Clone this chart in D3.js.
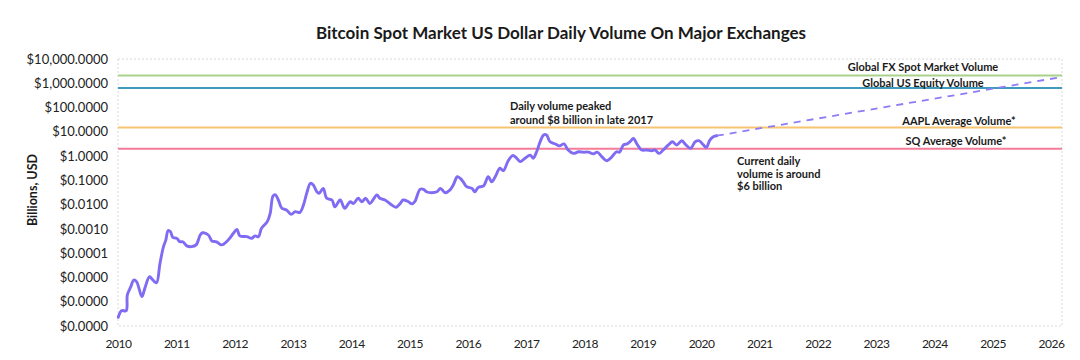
<!DOCTYPE html>
<html><head><meta charset="utf-8">
<script src="https://cdn.jsdelivr.net/npm/d3@7"></script>
<style>
html,body{margin:0;padding:0;background:#fff;}
svg{display:block;font-family:Lato,"Open Sans",sans-serif;}
</style></head>
<body>
<svg id="chart" width="1080" height="360"></svg>
<script>
// ---- data ----
const years = [2010.005,2010.06,2010.14,2010.16,2010.22,2010.27,2010.32,2010.41,2010.46,2010.54,2010.60,2010.66,2010.72,2010.78,2010.82,2010.86,2010.90,2010.94,2011.01,2011.06,2011.11,2011.18,2011.26,2011.34,2011.41,2011.45,2011.55,2011.61,2011.69,2011.78,2011.89,2011.98,2012.04,2012.09,2012.21,2012.29,2012.35,2012.41,2012.46,2012.56,2012.61,2012.66,2012.70,2012.75,2012.81,2012.89,2012.97,2013.04,2013.12,2013.18,2013.24,2013.30,2013.35,2013.41,2013.45,2013.52,2013.58,2013.67,2013.72,2013.81,2013.89,2013.98,2014.04,2014.12,2014.18,2014.25,2014.32,2014.44,2014.49,2014.58,2014.67,2014.77,2014.84,2014.89,2014.98,2015.04,2015.09,2015.18,2015.24,2015.29,2015.38,2015.47,2015.53,2015.61,2015.69,2015.75,2015.82,2015.87,2015.92,2015.98,2016.07,2016.12,2016.18,2016.27,2016.35,2016.41,2016.47,2016.55,2016.61,2016.69,2016.77,2016.84,2016.90,2016.98,2017.07,2017.12,2017.18,2017.24,2017.30,2017.35,2017.41,2017.50,2017.57,2017.65,2017.72,2017.81,2017.90,2017.98,2018.07,2018.15,2018.22,2018.30,2018.38,2018.47,2018.55,2018.60,2018.67,2018.73,2018.78,2018.84,2018.90,2018.98,2019.07,2019.15,2019.21,2019.28,2019.35,2019.44,2019.51,2019.58,2019.67,2019.74,2019.82,2019.90,2019.97,2020.04,2020.09,2020.15,2020.21,2020.27];
const volumeBillions = [2.29e-7,4.27e-7,4.27e-7,1.91e-6,4.17e-6,7.76e-6,6.61e-6,1.62e-6,3.55e-6,1.07e-5,7.76e-6,6.03e-6,3.80e-5,1.86e-4,3.47e-4,8.51e-4,7.59e-4,4.47e-4,4.07e-4,2.95e-4,2.95e-4,2.00e-4,1.86e-4,2.19e-4,5.62e-4,6.92e-4,5.62e-4,3.16e-4,2.95e-4,2.19e-4,3.47e-4,6.61e-4,9.55e-4,5.13e-4,4.79e-4,4.07e-4,5.13e-4,4.79e-4,1.05e-3,2.00e-3,4.37e-3,0.0229,0.0251,0.0155,7.08e-3,6.03e-3,3.98e-3,5.13e-3,4.79e-3,9.55e-3,0.0316,0.0759,0.0646,0.0339,0.0295,0.0468,0.0182,0.0155,8.13e-3,0.0155,7.08e-3,0.0132,0.0112,0.0182,0.0132,0.0182,0.0112,0.0251,0.0182,0.0155,0.0107,7.76e-3,0.0112,0.0155,0.0132,0.0107,0.0132,0.0427,0.0427,0.0339,0.0309,0.0339,0.0468,0.0309,0.0398,0.0646,0.141,0.120,0.0871,0.0550,0.0468,0.0339,0.0513,0.0589,0.141,0.0871,0.141,0.316,0.251,0.631,1.05,0.813,0.589,0.813,1.10,0.813,1.51,3.89,7.41,7.41,3.89,3.16,2.63,3.16,1.78,1.29,1.51,1.45,1.45,1.23,1.45,0.933,0.646,0.933,1.51,1.45,2.88,3.16,3.89,5.37,3.16,1.78,1.78,1.66,1.78,1.29,1.78,2.88,3.89,2.88,4.27,2.88,2.09,3.89,4.27,2.88,2.29,4.57,6.31,6.92];
const projectionYears = [2020.27, 2026.19];
const projectionBillions = [6.92, 1820];
const refNames = ["Global FX Spot Market Volume","Global US Equity Volume","AAPL Average Volume*","SQ Average Volume*"];
const refValues = [2100, 640, 15, 2.0];
const refColors = ["#a9d18e","#3e9bbd","#f8c471","#f37c9b"];
const yTicks = [1e4,1e3,1e2,1e1,1,1e-1,1e-2,1e-3,1e-4,1e-5,1e-6,1e-7];
const xTicks = [2010,2011,2012,2013,2014,2015,2016,2017,2018,2019,2020,2021,2022,2023,2024,2025,2026];

// ---- layout ----
const svg = d3.select("#chart");
const L = 118, R = 1062, T = 59, B = 326;
const x = d3.scaleLinear().domain([2010, 2026.19]).range([L, R]);
const y = d3.scaleLog().domain([1e-7, 1e4]).range([B, T]);

svg.append("text").attr("x", 561).attr("y", 39).attr("text-anchor","middle")
  .attr("font-size", 17).attr("font-weight", 700).attr("fill","#1a1a1a")
  .text("Bitcoin Spot Market US Dollar Daily Volume On Major Exchanges");

// plot border
svg.append("rect").attr("x", L).attr("y", T).attr("width", R-L).attr("height", B-T)
  .attr("fill","none").attr("stroke","#d9d9d9").attr("stroke-dasharray","2,2").attr("stroke-width",1);

// y axis
const fmt = d3.format("$,.4f");
const yAxis = svg.append("g").attr("transform", `translate(${L},0)`)
  .call(d3.axisLeft(y).tickValues(yTicks).tickFormat(fmt).tickSize(0).tickPadding(10));
yAxis.select(".domain").remove();
yAxis.selectAll("text").attr("font-size", 13).attr("fill","#222").attr("font-family","Lato,sans-serif");

// x axis
const xAxis = svg.append("g").attr("transform", `translate(0,${B})`)
  .call(d3.axisBottom(x).tickValues(xTicks).tickFormat(d3.format("d")).tickSize(0).tickPadding(13));
xAxis.select(".domain").remove();
xAxis.selectAll("text").attr("font-size", 12).attr("fill","#222").attr("font-family","Lato,sans-serif").attr("letter-spacing","-0.5px");

svg.append("text").attr("transform","translate(37,190) rotate(-90)").attr("text-anchor","middle")
  .attr("font-size", 12.5).attr("font-weight",700).attr("fill","#1a1a1a").text("Billions, USD");

// reference lines
refValues.forEach((v,i)=>{
  svg.append("line").attr("x1", L).attr("x2", R).attr("y1", y(v)).attr("y2", y(v))
    .attr("stroke", refColors[i]).attr("stroke-width", 2);
});

// main line
const data = years.map((yr,i)=>({yr, v: volumeBillions[i]}));
const line = d3.line().x(d=>x(d.yr)).y(d=>y(d.v)).curve(d3.curveCatmullRom.alpha(0.5));
svg.append("path").datum(data).attr("d", line).attr("fill","none")
  .attr("stroke","#7f6cf3").attr("stroke-width",2.9).attr("stroke-linejoin","round").attr("stroke-linecap","round");

// projection
const proj = projectionYears.map((yr,i)=>({yr, v: projectionBillions[i]}));
svg.append("path").datum(proj).attr("d", d3.line().x(d=>x(d.yr)).y(d=>y(d.v)))
  .attr("fill","none").attr("stroke","#8e7cf6").attr("stroke-width",1.8).attr("stroke-dasharray","7,6");

// annotations
function ann(lines, x0, y0, dy, anchor){
  const t = svg.append("text").attr("x", x0).attr("y", y0).attr("font-size", 11)
    .attr("font-weight",700).attr("fill","#1a1a1a").attr("text-anchor", anchor||"start");
  lines.forEach((s,i)=> t.append("tspan").attr("x", x0).attr("dy", i===0?0:dy).text(s));
}
ann(["Daily volume peaked","around $8 billion in late 2017"], 510, 110, 13.5);
ann([refNames[0]], 923, 71, 0, "middle");
ann([refNames[1]], 923, 87, 0, "middle");
ann([refNames[2]], 959, 125, 0, "middle");
ann([refNames[3]], 956, 145, 0, "middle");
ann(["Current daily","volume is around","$6 billion"], 737, 165, 12.5);
</script>
</body></html>
